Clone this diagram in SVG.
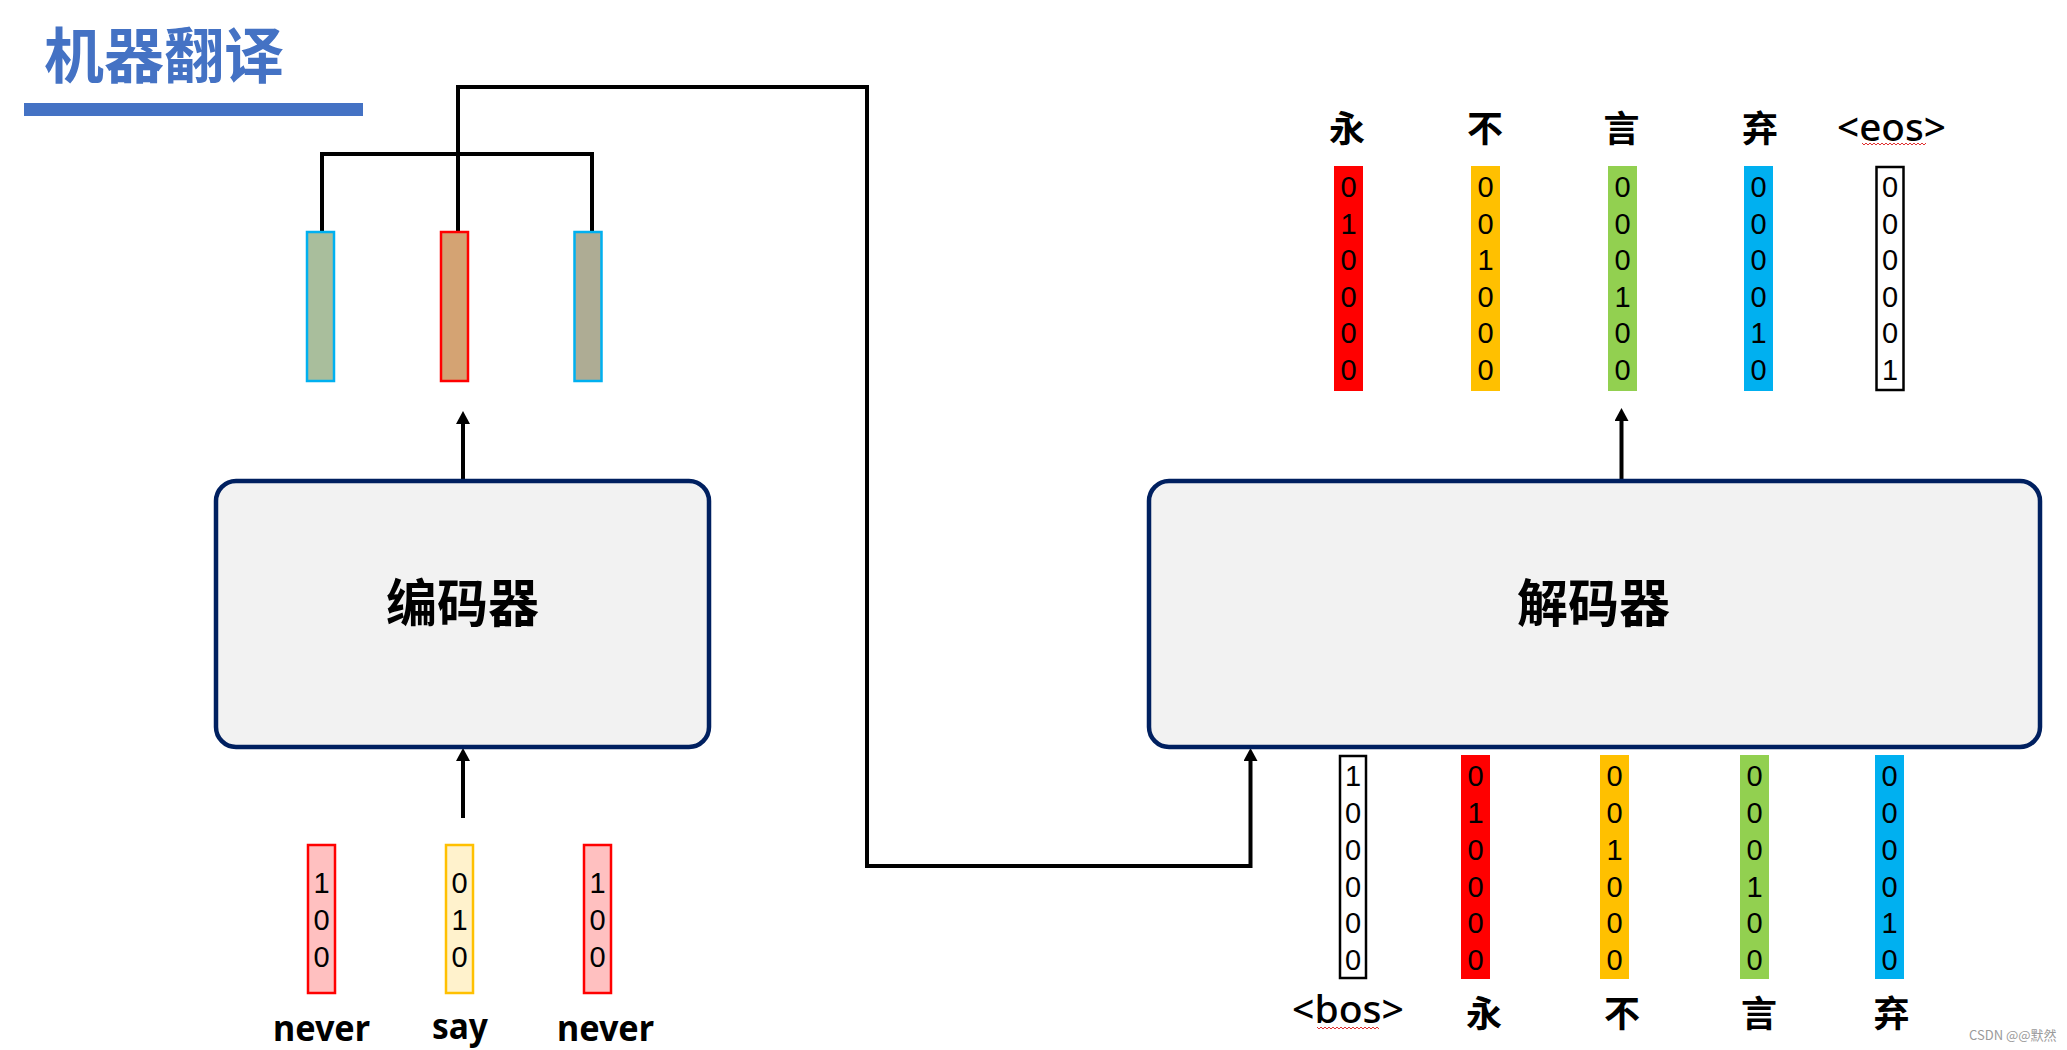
<svg xmlns="http://www.w3.org/2000/svg" width="2067" height="1050" viewBox="0 0 2067 1050">
  <defs>
    <marker id="ah" markerUnits="userSpaceOnUse" markerWidth="16" markerHeight="16" refX="0" refY="7" orient="auto">
      <path d="M0,0 L13,7 L0,14 z" fill="#000"/>
    </marker>
    <style>
      .title { font-family: "Noto Sans CJK SC", sans-serif; font-weight: bold; font-size: 60px; fill: #4472C4; }
      .box { fill: #F2F2F2; stroke: #002060; stroke-width: 4.5; }
      .boxlabel { font-family: "Noto Sans CJK SC", sans-serif; font-weight: bold; font-size: 51px; fill: #000; text-anchor: middle; }
      .dig { font-family: "Liberation Sans", Arial, sans-serif; font-size: 29px; fill: #000; text-anchor: middle; }
      .head { font-family: "Noto Sans CJK SC", sans-serif; font-weight: 600; font-size: 36px; fill: #000; text-anchor: middle; }
      .tag { font-family: "Noto Sans", "Liberation Sans", sans-serif; font-weight: 500; font-size: 38px; fill: #000; text-anchor: middle; }
      .word { font-family: "Noto Sans", "Liberation Sans", sans-serif; font-weight: bold; font-size: 36px; fill: #000; text-anchor: middle; }
      .conn { fill: none; stroke: #000; stroke-width: 4; stroke-linejoin: miter; }
      .wavy { fill: none; stroke: #E03030; stroke-width: 1; }
    </style>
  </defs>
  <rect width="2067" height="1050" fill="#fff"/>

  <g id="title">
    <text class="title" x="44" y="78">机器翻译</text>
    <rect x="24" y="103" width="339" height="13" fill="#4472C4"/>
  </g>

  <g id="connectors">
    <path class="conn" d="M322,232 V154 H592 V232"/>
    <path class="conn" d="M458,232 V154"/>
    <path class="conn" d="M458,154 V87 H867 V866 H1250.5 V761" marker-end="url(#ah)"/>
    <path class="conn" d="M463,481 V424" marker-end="url(#ah)"/>
    <path class="conn" d="M463,818 V761" marker-end="url(#ah)"/>
    <path class="conn" d="M1621.5,481 V421" marker-end="url(#ah)"/>
  </g>

  <g id="encoded-vectors">
    <rect x="307" y="232" width="27" height="149" fill="#A9BE9C" stroke="#00B0F0" stroke-width="2.5"/>
    <rect x="441" y="232" width="27" height="149" fill="#D4A373" stroke="#FF0000" stroke-width="2.5"/>
    <rect x="574.5" y="232" width="27" height="149" fill="#AEAC94" stroke="#00B0F0" stroke-width="2.5"/>
  </g>

  <g id="encoder">
    <rect class="box" x="216" y="481" width="493" height="266" rx="20"/>
    <text class="boxlabel" x="462.5" y="622">编码器</text>
  </g>

  <g id="decoder">
    <rect class="box" x="1149" y="481" width="891" height="266" rx="20"/>
    <text class="boxlabel" x="1593.5" y="622">解码器</text>
  </g>

  <g id="input-never-1">
    <rect x="308" y="845" width="27" height="148" fill="#FFC0C0" stroke="#FF0000" stroke-width="2.5"/>
    <text class="dig" x="321.5" y="893">1</text>
    <text class="dig" x="321.5" y="930">0</text>
    <text class="dig" x="321.5" y="967">0</text>
    <text class="word" x="321.5" y="1041" textLength="97" lengthAdjust="spacingAndGlyphs">never</text>
  </g>
  <g id="input-say">
    <rect x="446" y="845" width="27" height="148" fill="#FFF2CC" stroke="#FFC000" stroke-width="2.5"/>
    <text class="dig" x="459.5" y="893">0</text>
    <text class="dig" x="459.5" y="930">1</text>
    <text class="dig" x="459.5" y="967">0</text>
    <text class="word" x="460" y="1039" textLength="56" lengthAdjust="spacingAndGlyphs">say</text>
  </g>
  <g id="input-never-2">
    <rect x="584" y="845" width="27" height="148" fill="#FFC0C0" stroke="#FF0000" stroke-width="2.5"/>
    <text class="dig" x="597.5" y="893">1</text>
    <text class="dig" x="597.5" y="930">0</text>
    <text class="dig" x="597.5" y="967">0</text>
    <text class="word" x="605.5" y="1041" textLength="97" lengthAdjust="spacingAndGlyphs">never</text>
  </g>

  <g id="out-yong">
    <text class="head" x="1347" y="142">永</text>
    <rect x="1334" y="166" width="29" height="225" fill="#FF0000"/>
    <text class="dig" x="1348.5" y="197">0</text><text class="dig" x="1348.5" y="233.5">1</text><text class="dig" x="1348.5" y="270">0</text><text class="dig" x="1348.5" y="306.5">0</text><text class="dig" x="1348.5" y="343">0</text><text class="dig" x="1348.5" y="380">0</text>
  </g>
  <g id="out-bu">
    <text class="head" x="1485" y="142">不</text>
    <rect x="1471" y="166" width="29" height="225" fill="#FFC000"/>
    <text class="dig" x="1485.5" y="197">0</text><text class="dig" x="1485.5" y="233.5">0</text><text class="dig" x="1485.5" y="270">1</text><text class="dig" x="1485.5" y="306.5">0</text><text class="dig" x="1485.5" y="343">0</text><text class="dig" x="1485.5" y="380">0</text>
  </g>
  <g id="out-yan">
    <text class="head" x="1621.5" y="142">言</text>
    <rect x="1608" y="166" width="29" height="225" fill="#92D050"/>
    <text class="dig" x="1622.5" y="197">0</text><text class="dig" x="1622.5" y="233.5">0</text><text class="dig" x="1622.5" y="270">0</text><text class="dig" x="1622.5" y="306.5">1</text><text class="dig" x="1622.5" y="343">0</text><text class="dig" x="1622.5" y="380">0</text>
  </g>
  <g id="out-qi">
    <text class="head" x="1760" y="142">弃</text>
    <rect x="1744" y="166" width="29" height="225" fill="#00B0F0"/>
    <text class="dig" x="1758.5" y="197">0</text><text class="dig" x="1758.5" y="233.5">0</text><text class="dig" x="1758.5" y="270">0</text><text class="dig" x="1758.5" y="306.5">0</text><text class="dig" x="1758.5" y="343">1</text><text class="dig" x="1758.5" y="380">0</text>
  </g>
  <g id="out-eos">
    <text class="tag" x="1891.5" y="141" textLength="109" lengthAdjust="spacingAndGlyphs">&lt;eos&gt;</text>
    <path class="wavy" d="M1862,143 l2,2 l2,-2 l2,2 l2,-2 l2,2 l2,-2 l2,2 l2,-2 l2,2 l2,-2 l2,2 l2,-2 l2,2 l2,-2 l2,2 l2,-2 l2,2 l2,-2 l2,2 l2,-2 l2,2 l2,-2 l2,2 l2,-2 l2,2 l2,-2 l2,2 l2,-2 l2,2 l2,-2 l2,2 l2,-2"/>
    <rect x="1876.5" y="167" width="27" height="223" fill="#fff" stroke="#000" stroke-width="2.5"/>
    <text class="dig" x="1890" y="197">0</text><text class="dig" x="1890" y="233.5">0</text><text class="dig" x="1890" y="270">0</text><text class="dig" x="1890" y="306.5">0</text><text class="dig" x="1890" y="343">0</text><text class="dig" x="1890" y="380">1</text>
  </g>

  <g id="in-bos">
    <rect x="1340" y="756" width="26" height="222" fill="#fff" stroke="#000" stroke-width="2.5"/>
    <text class="dig" x="1353" y="786">1</text><text class="dig" x="1353" y="823">0</text><text class="dig" x="1353" y="859.5">0</text><text class="dig" x="1353" y="896.5">0</text><text class="dig" x="1353" y="933">0</text><text class="dig" x="1353" y="970">0</text>
    <text class="tag" x="1348" y="1023" textLength="112" lengthAdjust="spacingAndGlyphs">&lt;bos&gt;</text>
    <path class="wavy" d="M1317,1027 l2,2 l2,-2 l2,2 l2,-2 l2,2 l2,-2 l2,2 l2,-2 l2,2 l2,-2 l2,2 l2,-2 l2,2 l2,-2 l2,2 l2,-2 l2,2 l2,-2 l2,2 l2,-2 l2,2 l2,-2 l2,2 l2,-2 l2,2 l2,-2 l2,2 l2,-2 l2,2 l2,-2 l2,2"/>
  </g>
  <g id="in-yong">
    <rect x="1461" y="755" width="29" height="224" fill="#FF0000"/>
    <text class="dig" x="1475.5" y="786">0</text><text class="dig" x="1475.5" y="823">1</text><text class="dig" x="1475.5" y="859.5">0</text><text class="dig" x="1475.5" y="896.5">0</text><text class="dig" x="1475.5" y="933">0</text><text class="dig" x="1475.5" y="970">0</text>
    <text class="head" x="1484" y="1027">永</text>
  </g>
  <g id="in-bu">
    <rect x="1600" y="755" width="29" height="224" fill="#FFC000"/>
    <text class="dig" x="1614.5" y="786">0</text><text class="dig" x="1614.5" y="823">0</text><text class="dig" x="1614.5" y="859.5">1</text><text class="dig" x="1614.5" y="896.5">0</text><text class="dig" x="1614.5" y="933">0</text><text class="dig" x="1614.5" y="970">0</text>
    <text class="head" x="1622" y="1027">不</text>
  </g>
  <g id="in-yan">
    <rect x="1740" y="755" width="29" height="224" fill="#92D050"/>
    <text class="dig" x="1754.5" y="786">0</text><text class="dig" x="1754.5" y="823">0</text><text class="dig" x="1754.5" y="859.5">0</text><text class="dig" x="1754.5" y="896.5">1</text><text class="dig" x="1754.5" y="933">0</text><text class="dig" x="1754.5" y="970">0</text>
    <text class="head" x="1759" y="1027">言</text>
  </g>
  <g id="in-qi">
    <rect x="1875" y="755" width="29" height="224" fill="#00B0F0"/>
    <text class="dig" x="1889.5" y="786">0</text><text class="dig" x="1889.5" y="823">0</text><text class="dig" x="1889.5" y="859.5">0</text><text class="dig" x="1889.5" y="896.5">0</text><text class="dig" x="1889.5" y="933">1</text><text class="dig" x="1889.5" y="970">0</text>
    <text class="head" x="1891.5" y="1027">弃</text>
  </g>

  <g id="watermark">
    <text x="1969" y="1040" font-family="'Noto Sans CJK SC', 'Liberation Sans', sans-serif" font-size="13" fill="#9a9a9a">CSDN @@默然</text>
  </g>
</svg>
